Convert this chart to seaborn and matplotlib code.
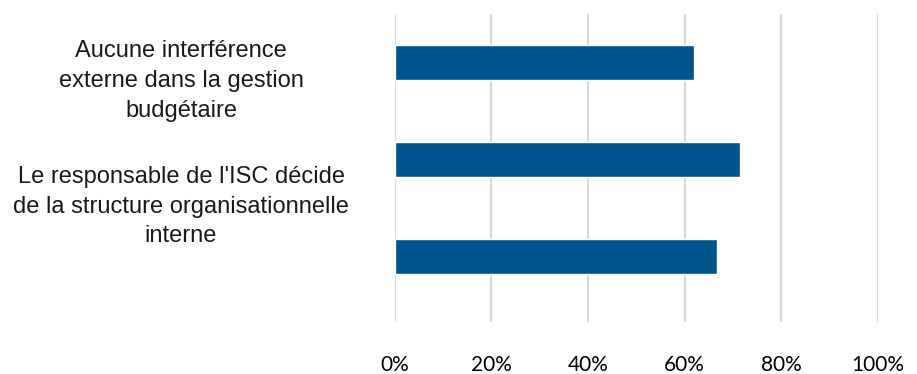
import matplotlib
matplotlib.use("Agg")
import matplotlib.pyplot as plt
import matplotlib.transforms as mtransforms
import seaborn as sns
import pandas as pd

categories = [
    "Aucune interférence\nexterne dans la gestion\nbudgétaire",
    "Le responsable de l'ISC décide\nde la structure organisationnelle\ninterne",
    "",
]
values = [61.9, 71.5, 66.7]
xtick_values = [0, 20, 40, 60, 80, 100]
xtick_labels = ["0%", "20%", "40%", "60%", "80%", "100%"]

df = pd.DataFrame({"cat": [f"c{i}" for i in range(len(categories))], "val": values})

sns.set_theme(style="white")
fig = plt.figure(figsize=(9.17, 3.74), dpi=100)
ax = fig.add_axes([394.5 / 917, 1 - 321.5 / 374, (878 - 394.5) / 917, (321.5 - 13.5) / 374])

sns.barplot(data=df, x="val", y="cat", orient="h", color="#00558C",
            saturation=1, width=0.36, ax=ax, zorder=3)

ax.set_xlim(0, 100)
ax.set_ylim(2.67, -0.505)
ax.set_xticks(xtick_values)
ax.set_xticklabels(xtick_labels, fontsize=15, family=["Lato", "DejaVu Sans"], color="#000000")
ax.tick_params(axis="x", length=0, pad=24)
ax.set_yticks([])
ax.set_xlabel("")
ax.set_ylabel("")
for s in ax.spines.values():
    s.set_visible(False)
for xv in xtick_values:
    ax.axvline(xv, color="#D9D9D9", lw=1.5, zorder=1)

# category labels
label_pos = [0.19, 1.485]
trans = mtransforms.blended_transform_factory(fig.transFigure, ax.transData)
for lab, yp in zip(categories[:2], label_pos):
    ax.text(181 / 917, yp, lab, transform=trans, ha="center", va="center",
            fontsize=17, family=["Liberation Sans", "DejaVu Sans"],
            color="#1a1a1a", linespacing=1.45)

fig.savefig("out.png", dpi=100)
